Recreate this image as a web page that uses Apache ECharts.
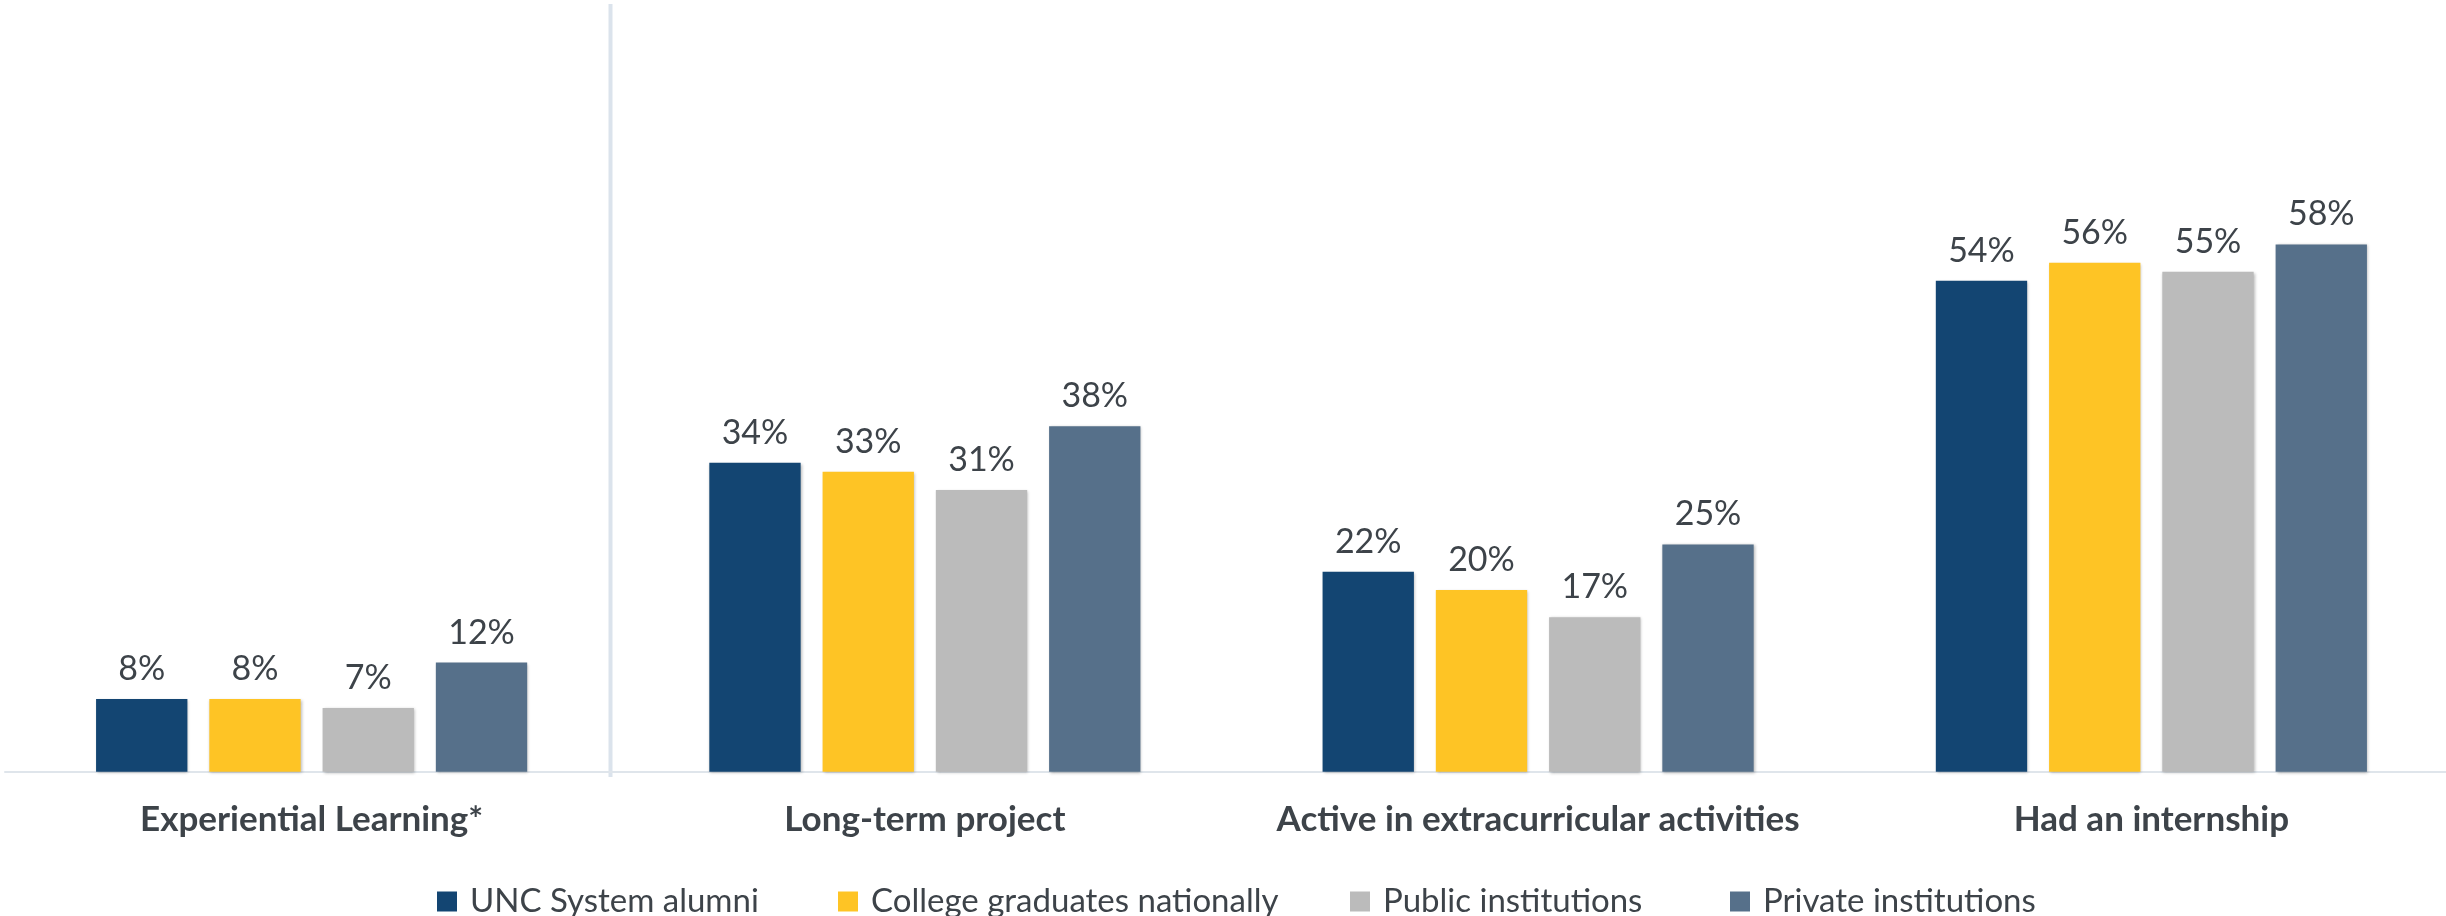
<!DOCTYPE html>
<html><head><meta charset="utf-8">
<script src="https://cdn.jsdelivr.net/npm/echarts@6/dist/echarts.min.js"></script>
<style>html,body{margin:0;padding:0;background:#fff;overflow:hidden}#c{width:2458px;height:916px}</style>
</head><body><div id="c"></div>
<script>
const categories = ['Experiential Learning*', 'Long-term project', 'Active in extracurricular activities', 'Had an internship'];
const seriesNames = ['UNC System alumni', 'College graduates nationally', 'Public institutions', 'Private institutions'];
const uncAlumni = [8, 34, 22, 54];
const collegeGrads = [8, 33, 20, 56];
const publicInst = [7, 31, 17, 55];
const privateInst = [12, 38, 25, 58];
const colors = ['#134572', '#fec425', '#bbbbbb', '#56708a'];
const values = [uncAlumni, collegeGrads, publicInst, privateInst];
const legendLefts = [432, 833, 1345, 1725];

const chart = echarts.init(document.getElementById('c'), null, {renderer: 'canvas'});
const series = seriesNames.map((n, i) => ({
  name: n, type: 'bar', data: values[i],
  barGap: '24%', barCategoryGap: '29.7%',
  itemStyle: {color: colors[i], shadowColor: 'rgba(0,0,0,0.28)', shadowBlur: 3, shadowOffsetX: 1, shadowOffsetY: 1},
  label: {show: true, position: 'top', distance: 13, formatter: p => p.value + '%',
    fontFamily: 'Lato', fontSize: 34, color: '#3d4349'},
  emphasis: {disabled: true}
}));
const legends = seriesNames.map((n, i) => ({
  data: [n], left: legendLefts[i], top: 880, itemWidth: 20, itemHeight: 20, icon: 'rect',
  selectedMode: false,
  textStyle: {fontFamily: 'Lato', fontSize: 33, color: '#3d4349', padding: [0, 0, 0, 8]}
}));
chart.setOption({
  animation: false,
  legend: legends,
  grid: {left: 5, right: 0, top: 44.5, bottom: 144.3, containLabel: false},
  xAxis: {type: 'category', data: categories,
    axisLine: {show: true, lineStyle: {color: '#dfe5eb', width: 2}},
    axisTick: {show: false},
    axisLabel: {interval: 0, margin: 31, fontFamily: 'Lato', fontWeight: 'bold', fontSize: 35, color: '#3d4349'}},
  yAxis: {type: 'value', min: 0, max: 80, show: false, splitLine: {show: false}},
  graphic: [{type: 'rect', shape: {x: 608.5, y: 4, width: 4, height: 773}, style: {fill: '#dbe3ec'}, z: 0}],
  series: series
});
</script></body></html>
